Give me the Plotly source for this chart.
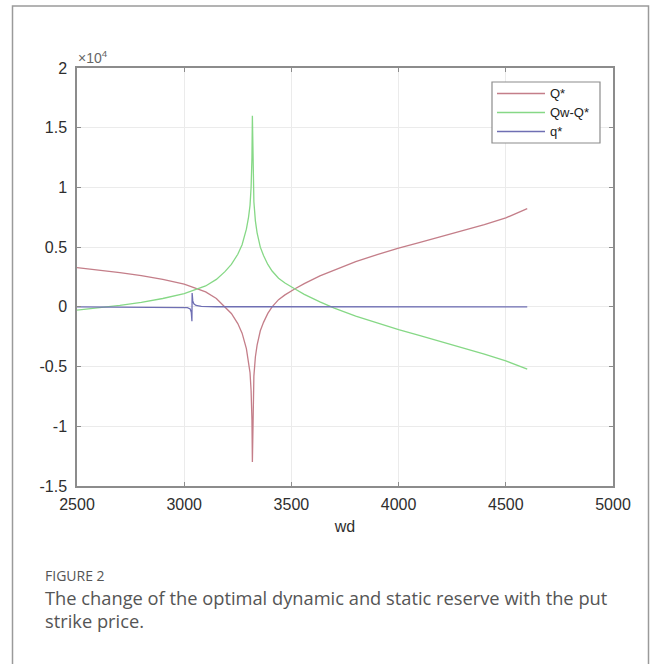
import plotly.graph_objects as go

# ---- data ----
wd = [2500, 2600, 2700, 2800, 2900, 3000, 3060, 3100, 3150, 3190, 3220, 3250, 3270, 3290,
      3300, 3307, 3312, 3316, 3318, 3320, 3325, 3332, 3340, 3355, 3370, 3390, 3410, 3440,
      3470, 3517, 3560, 3633, 3700, 3800, 3900, 4000, 4100, 4200, 4300, 4400, 4500, 4600]

q_star = [3280, 3090, 2870, 2620, 2300, 1900, 1520, 1250, 700, 0, -550, -1400, -2200, -3500,
          -4500, -5500, -7000, -9500, -13000, -9000, -5800, -4200, -3200, -2000, -1300, -550, 0, 600,
          1000, 1520, 1950, 2600, 3100, 3780, 4370, 4920, 5400, 5880, 6380, 6880, 7450, 8220]

qw_minus_q = [-280, -90, 130, 380, 700, 1100, 1500, 1750, 2300, 2950, 3550, 4400, 5200, 6500,
              7500, 8500, 10000, 12500, 16000, 12000, 8800, 7200, 6200, 5000, 4300, 3550, 3000, 2400,
              2000, 1500, 1050, 420, -100, -780, -1360, -1900, -2400, -2900, -3420, -3950, -4520, -5220]

wd_small = [2500, 2950, 3015, 3028, 3033, 3036, 3037, 3040, 3045, 3055, 3080, 3150, 4600]
q_small = [0, -20, -70, -180, -450, -1200, 1150, 500, 250, 120, 40, 10, 0]

x_ticks = [2500, 3000, 3500, 4000, 4500, 5000]
y_ticks = [-15000, -10000, -5000, 0, 5000, 10000, 15000, 20000]
y_tick_labels = ["-1.5", "-1", "-0.5", "0", "0.5", "1", "1.5", "2"]

series_names = ["Q*", "Qw-Q*", "q*"]
series_colors = ["#c47e89", "#86d886", "#6f6fb3"]

xs = [wd, wd, wd_small]
ys = [q_star, qw_minus_q, q_small]

fig = go.Figure()
for name, color, x, y in zip(series_names, series_colors, xs, ys):
    fig.add_trace(go.Scatter(x=x, y=y, mode="lines", name=name, showlegend=False,
                             line=dict(color=color, width=1.3)))

L, R, T, B = 77, 613, 68, 486
W, H = 654, 664

def px(xp):
    return (xp - L) / (R - L)

def py(yp):
    return (B - yp) / (B - T)

FONT = "Liberation Sans, Arial, Helvetica, sans-serif"

axis_common = dict(
    showline=True, linecolor="#8c8c8c", linewidth=1.5, mirror="ticks",
    ticks="inside", ticklen=4, tickcolor="#8c8c8c",
    showgrid=True, gridcolor="#ebebeb", gridwidth=1, zeroline=False,
    tickfont=dict(family=FONT, size=16, color="#2e2e2e"),
)

fig.update_xaxes(range=[2500, 5000], tickvals=x_ticks, ticktext=[str(v) for v in x_ticks],
                 title=dict(text="wd", font=dict(family=FONT, size=16, color="#2e2e2e"), standoff=9),
                 ticklabelstandoff=3, **axis_common)
fig.update_yaxes(range=[-15000, 20000], tickvals=y_ticks, ticktext=y_tick_labels,
                 ticklabelstandoff=5, **axis_common)

# MATLAB-style legend box drawn in paper space
leg_x0, leg_x1, leg_y0, leg_y1 = 492, 600, 82, 143
row_y = [93.5, 112.5, 131.5]
shapes = [
    dict(type="rect", xref="paper", yref="paper",
         x0=px(12.5), x1=px(648.5), y0=py(720), y1=py(6),
         line=dict(color="#9a9a9a", width=1.5), fillcolor="rgba(0,0,0,0)", layer="below"),
    dict(type="rect", xref="paper", yref="paper",
         x0=px(leg_x0), x1=px(leg_x1), y0=py(leg_y1), y1=py(leg_y0),
         line=dict(color="#8c8c8c", width=1.2), fillcolor="white", layer="above"),
]
annotations = []
for name, color, ry in zip(series_names, series_colors, row_y):
    shapes.append(dict(type="line", xref="paper", yref="paper",
                       x0=px(497), x1=px(545), y0=py(ry), y1=py(ry),
                       line=dict(color=color, width=1.3), layer="above"))
    annotations.append(dict(text=name, xref="paper", yref="paper", x=px(548), y=py(ry),
                            xanchor="left", yanchor="middle", showarrow=False,
                            font=dict(family=FONT, size=13, color="#222")))

annotations += [
    dict(text="×10<sup>4</sup>", xref="paper", yref="paper", x=px(76), y=py(68),
         xanchor="left", yanchor="bottom", showarrow=False,
         font=dict(family=FONT, size=14, color="#666")),
    dict(text="FIGURE 2", xref="paper", yref="paper", x=px(43), y=py(575),
         xanchor="left", yanchor="middle", showarrow=False,
         font=dict(family="Open Sans, sans-serif", size=14, color="#555")),
    dict(text="The change of the optimal dynamic and static reserve with the put",
         xref="paper", yref="paper", x=px(43), y=py(597),
         xanchor="left", yanchor="middle", showarrow=False,
         font=dict(family="Open Sans, sans-serif", size=18.3, color="#555")),
    dict(text="strike price.",
         xref="paper", yref="paper", x=px(43), y=py(620),
         xanchor="left", yanchor="middle", showarrow=False,
         font=dict(family="Open Sans, sans-serif", size=18.3, color="#555")),
]

fig.update_layout(
    width=W, height=H,
    margin=dict(l=L, r=W - R, t=T, b=H - B, pad=0),
    paper_bgcolor="white", plot_bgcolor="white",
    showlegend=False,
    shapes=shapes,
    annotations=annotations,
)

fig.write_html("out.html", config={"displayModeBar": False},
               post_script="document.body.style.margin='0px';")
